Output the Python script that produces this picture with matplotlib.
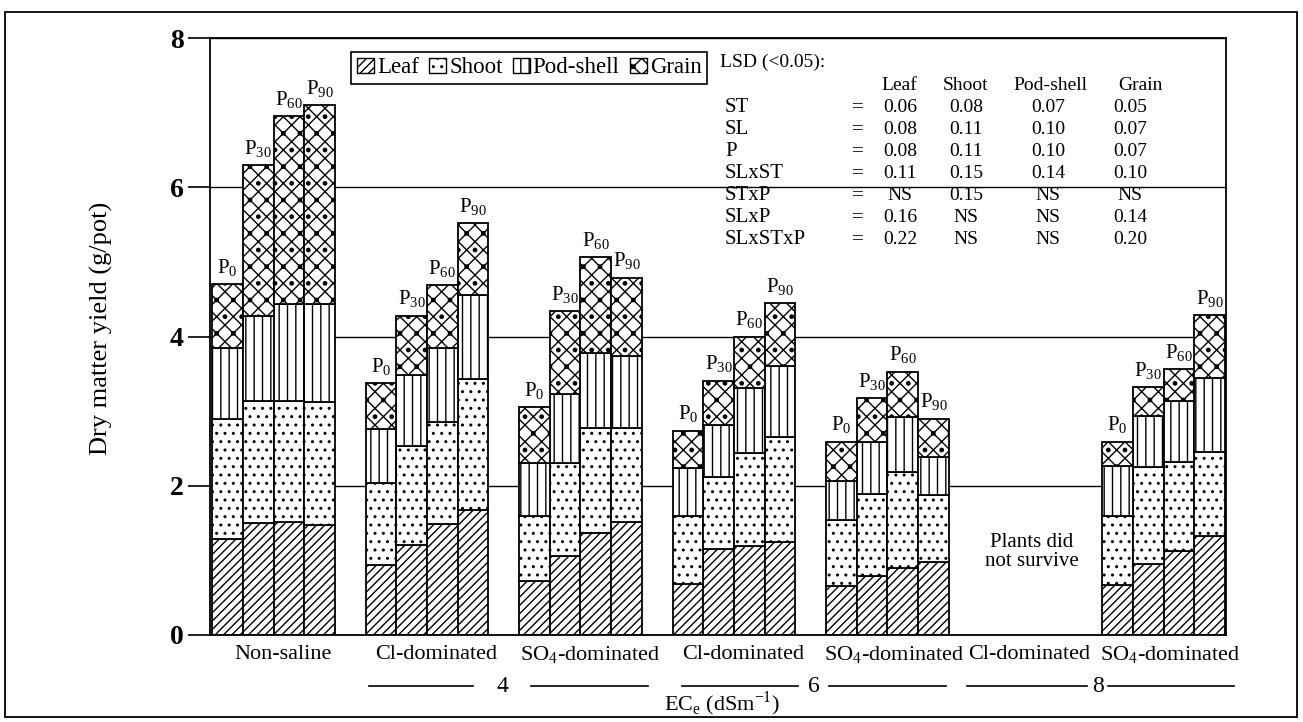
#dry matter yield of leaf, shoot, pod-shell and grain under salinity and P levels
import matplotlib
matplotlib.use('Agg')
import matplotlib.pyplot as plt
from matplotlib.patches import Patch, Rectangle
import numpy as np

plt.rcParams['font.family'] = ['Liberation Serif', 'DejaVu Serif']
plt.rcParams['mathtext.fontset'] = 'custom'
plt.rcParams['mathtext.rm'] = 'Liberation Serif'
plt.rcParams['hatch.color'] = 'black'
plt.rcParams['hatch.linewidth'] = 1.0

# treatments (group 6 = Cl-dominated at 8 dS/m, plants did not survive)
categories = ['Non-saline', 'Cl-dominated', 'SO$_4$-dominated', 'Cl-dominated',
              'SO$_4$-dominated', 'Cl-dominated', 'SO$_4$-dominated']
salt_levels = ['4', '6', '8']
p_levels = ['0', '30', '60', '90']

# g/pot for each part, one row per surviving treatment, columns P0..P90
leaf = [[1.29, 1.50, 1.52, 1.47],
        [0.94, 1.21, 1.49, 1.67],
        [0.73, 1.06, 1.37, 1.51],
        [0.69, 1.15, 1.19, 1.25],
        [0.65, 0.79, 0.90, 0.98],
        [0.67, 0.95, 1.13, 1.33]]
shoot = [[1.61, 1.63, 1.61, 1.65],
         [1.10, 1.32, 1.37, 1.76],
         [0.87, 1.24, 1.40, 1.26],
         [0.91, 0.97, 1.25, 1.40],
         [0.89, 1.10, 1.29, 0.89],
         [0.92, 1.30, 1.19, 1.12]]
pod_shell = [[0.95, 1.15, 1.31, 1.31],
             [0.72, 0.95, 0.99, 1.13],
             [0.70, 0.93, 1.01, 0.97],
             [0.64, 0.69, 0.87, 0.95],
             [0.53, 0.69, 0.73, 0.52],
             [0.67, 0.69, 0.82, 1.00]]
grain = [[0.85, 2.02, 2.51, 2.67],
         [0.62, 0.80, 0.84, 0.96],
         [0.75, 1.11, 1.28, 1.05],
         [0.50, 0.60, 0.69, 0.85],
         [0.52, 0.59, 0.61, 0.51],
         [0.33, 0.38, 0.42, 0.84]]

# LSD table
lsd_sources = ['ST', 'SL', 'P', 'SLxST', 'STxP', 'SLxP', 'SLxSTxP']
lsd_leaf = ['0.06', '0.08', '0.08', '0.11', 'NS', '0.16', '0.22']
lsd_shoot = ['0.08', '0.11', '0.11', '0.15', '0.15', 'NS', 'NS']
lsd_pod = ['0.07', '0.10', '0.10', '0.14', 'NS', 'NS', 'NS']
lsd_grain = ['0.05', '0.07', '0.07', '0.10', 'NS', '0.14', '0.20']

parts = ['Leaf', 'Shoot', 'Pod-shell', 'Grain']
hatches = ['////', '..', '||', 'xx.']

W, H = 1303, 722


def fxy(px, py):
    # pixel position -> figure fraction
    return px / W, 1 - py / H


fig = plt.figure(figsize=(W / 100, H / 100), dpi=100)
ax = fig.add_axes([210 / W, 1 - 635 / H, (1226 - 210) / W, (635 - 38) / H])

# bar positions: 4 bars per group, one empty slot for the dead plants
group_start = [0, 5, 10, 15, 20, 29]
data = [np.array(leaf), np.array(shoot), np.array(pod_shell), np.array(grain)]

for g, x0 in enumerate(group_start):
    xs = x0 + np.arange(4)
    bottom = np.zeros(4)
    for k in range(4):
        ax.bar(xs, data[k][g], width=1, bottom=bottom, align='edge',
               color='white', edgecolor='black', linewidth=1.3,
               hatch=hatches[k], zorder=2)
        bottom = bottom + data[k][g]
    for i in range(4):
        ax.text(xs[i] + 0.5, bottom[i] + 0.07, 'P$_{' + p_levels[i] + '}$',
                ha='center', va='bottom', fontsize=15)

ax.text(26.7, 1.11, 'Plants did\nnot survive', ha='center', va='center',
        fontsize=15, linespacing=1.0)

ax.set_xlim(-0.07, 33.03)
ax.set_ylim(0, 8)
ax.set_xticks([])
ax.set_yticks([0, 2, 4, 6, 8])
ax.tick_params(axis='y', length=16, width=1.2, pad=3, labelsize=20)
for lab in ax.get_yticklabels():
    lab.set_fontweight('bold')
ax.yaxis.grid(True, color='black', linewidth=1.0)
ax.set_axisbelow(True)
for sp in ax.spines.values():
    sp.set_linewidth(1.3)

# category labels below the axis
tr = ax.get_xaxis_transform()
label_x = [2.3, 7.3, 12.3, 17.3, 22.2, 26.6, 31.2]
for x, c in zip(label_x, categories):
    ax.text(x, -0.033, c, transform=tr, ha='center', va='center', fontsize=16)

level_x = [9.45, 19.6, 28.85]
level_lines = [[(5.1, 8.5), (10.4, 14.2)],
               [(15.3, 19.1), (20.1, 23.9)],
               [(24.6, 28.5), (29.2, 33.3)]]
for x, s, segs in zip(level_x, salt_levels, level_lines):
    ax.text(x, -0.086, s, transform=tr, ha='center', va='center', fontsize=17)
    for a, b in segs:
        ax.plot([a, b], [-0.086, -0.086], transform=tr, color='black',
                lw=1.2, clip_on=False)
ax.text(16.6, -0.115, 'EC$_\\mathrm{e}$ (dSm$^{\\mathrm{-1}}$)', transform=tr,
        ha='center', va='center', fontsize=16)

fig.text(*fxy(101, 328), 'Dry matter yield (g/pot)', rotation=90,
         ha='center', va='center', fontsize=19)

# legend
handles = [Patch(facecolor='white', edgecolor='black', hatch=h, linewidth=1.0)
           for h in hatches]
leg = ax.legend(handles, parts, loc='upper left', bbox_to_anchor=(0.139, 0.977),
                ncol=4, fontsize=16.5, frameon=True, fancybox=False,
                edgecolor='black', framealpha=1, handlelength=0.75,
                handleheight=0.6, handletextpad=0.12, columnspacing=0.45,
                borderpad=0.25, borderaxespad=0)
leg.get_frame().set_linewidth(1.2)

# LSD table
fig.text(*fxy(720, 62), 'LSD (<0.05):', ha='left', va='center', fontsize=14)
col_x = [900, 966, 1048, 1130]
head_x = [899, 966, 1050, 1140]
for x, p in zip(head_x, parts):
    fig.text(*fxy(x, 86), p, ha='center', va='center', fontsize=14)
for i, src in enumerate(lsd_sources):
    y = 108 + 22 * i
    fig.text(*fxy(725, y), src, ha='left', va='center', fontsize=15)
    fig.text(*fxy(858, y), '=', ha='center', va='center', fontsize=15)
    for x, col in zip(col_x, [lsd_leaf, lsd_shoot, lsd_pod, lsd_grain]):
        fig.text(*fxy(x, y), col[i], ha='center', va='center', fontsize=14)

# frame around the whole figure
fig.add_artist(Rectangle(fxy(5, 717), (1297 - 5) / W, (717 - 12) / H,
                         transform=fig.transFigure, fill=False,
                         edgecolor='black', linewidth=1.3))

fig.savefig('out.png', dpi=100, facecolor='white')
